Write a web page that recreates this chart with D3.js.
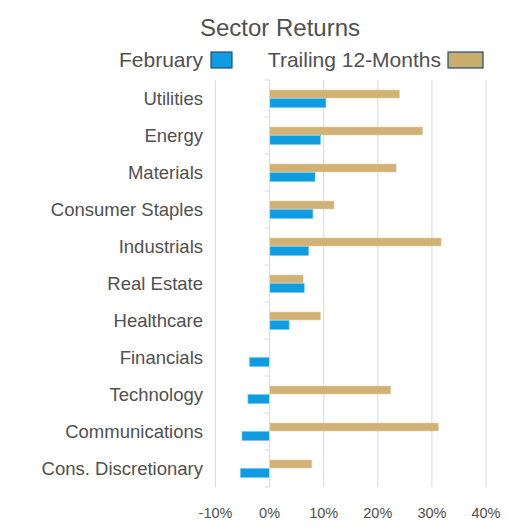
<!DOCTYPE html>
<meta charset="utf-8">
<title>Sector Returns</title>
<style>
body { margin: 0; background: #fff; }
text { font-family: "Liberation Sans", Arial, sans-serif; fill: #505050; }
</style>
<body>
<svg id="chart" width="516" height="531"></svg>
<script src="https://cdn.jsdelivr.net/npm/d3@7"></script>
<script>

var sectors = ["Utilities", "Energy", "Materials", "Consumer Staples", "Industrials", "Real Estate",
               "Healthcare", "Financials", "Technology", "Communications", "Cons. Discretionary"];
var february = [10.4, 9.4, 8.4, 8.0, 7.2, 6.4, 3.6, -3.7, -4.0, -5.1, -5.4];
var trailing = [24.0, 28.3, 23.4, 11.9, 31.7, 6.2, 9.4, 0, 22.4, 31.2, 7.8];
var ticks = [-10, 0, 10, 20, 30, 40];

var svg = d3.select("#chart");

var x = d3.scaleLinear().domain([-10, 40]).range([215.5, 486]);
var y = d3.scaleBand().domain(sectors).range([80, 487]);

// gridlines
svg.append("g").selectAll("line")
    .data(ticks.filter(function(t) { return t != 0; }))
  .enter().append("line")
    .attr("x1", function(d) { return x(d); }).attr("x2", function(d) { return x(d); })
    .attr("y1", 80).attr("y2", 487)
    .attr("stroke", "#d9d9d9").attr("stroke-width", 1);

// tick labels
svg.append("g").selectAll("text")
    .data(ticks)
  .enter().append("text")
    .attr("x", function(d) { return x(d); })
    .attr("y", 518)
    .attr("text-anchor", "middle")
    .style("font-size", "14.5px")
    .text(function(d) { return d + "%"; });

var rows = svg.append("g").selectAll("g")
    .data(sectors)
  .enter().append("g")
    .attr("transform", function(d) { return "translate(0," + y(d) + ")"; });

rows.append("rect")
    .attr("x", function(d, i) { return x(Math.min(0, trailing[i])); })
    .attr("y", 10)
    .attr("width", function(d, i) { return Math.abs(x(trailing[i]) - x(0)); })
    .attr("height", 8)
    .attr("fill", "#d1b174").attr("stroke", "#e6d3ab").attr("stroke-width", 0.6);

rows.append("rect")
    .attr("x", function(d, i) { return x(Math.min(0, february[i])); })
    .attr("y", 18.5)
    .attr("width", function(d, i) { return Math.abs(x(february[i]) - x(0)); })
    .attr("height", 9)
    .attr("fill", "#0f9ce0").attr("stroke", "#6cc6ef").attr("stroke-width", 0.6);

rows.append("text")
    .attr("x", 203)
    .attr("y", 25)
    .attr("text-anchor", "end")
    .style("font-size", "18.5px")
    .text(function(d) { return d; });

// zero axis with ticks
svg.append("line")
    .attr("x1", x(0)).attr("x2", x(0)).attr("y1", 80).attr("y2", 487)
    .attr("stroke", "#d9d9d9");
svg.append("g").selectAll("line")
    .data(sectors.concat(["end"]))
  .enter().append("line")
    .attr("x1", x(0) - 5).attr("x2", x(0))
    .attr("y1", function(d, i) { return 80 + i * y.bandwidth(); })
    .attr("y2", function(d, i) { return 80 + i * y.bandwidth(); })
    .attr("stroke", "#d9d9d9");

// title
svg.append("text")
    .attr("x", 280).attr("y", 36)
    .attr("text-anchor", "middle")
    .style("font-size", "24px")
    .text("Sector Returns");

// legend
svg.append("text").attr("x", 203).attr("y", 67).attr("text-anchor", "end")
    .style("font-size", "21px").text("February");
svg.append("rect").attr("x", 211).attr("y", 52).attr("width", 21).attr("height", 16)
    .attr("fill", "#0f9ce0").attr("stroke", "#1f4e79").attr("stroke-width", 1.2);
svg.append("text").attr("x", 441).attr("y", 67).attr("text-anchor", "end")
    .style("font-size", "21px").text("Trailing 12-Months");
svg.append("rect").attr("x", 448).attr("y", 52).attr("width", 35).attr("height", 16)
    .attr("fill", "#c9ad6c").attr("stroke", "#1f4e79").attr("stroke-width", 1.2);

</script>
</body>
